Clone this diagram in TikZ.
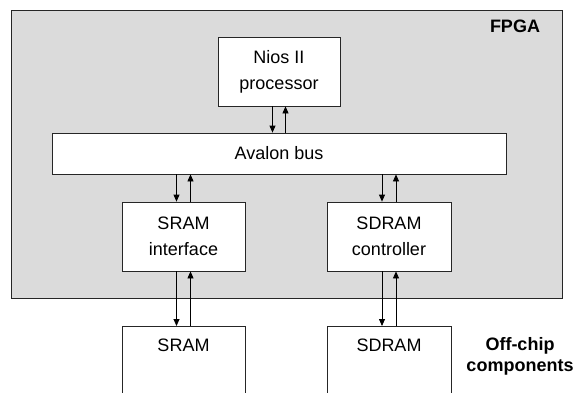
\documentclass[tikz,border=0pt]{standalone}
\usepackage{fontspec}
\setmainfont{Liberation Sans}
\usepackage{tikz}
\usetikzlibrary{arrows.meta,positioning}

\begin{document}
\begin{tikzpicture}[x=1pt, y=-1pt, line width=0.8pt, >={Triangle[length=7pt,width=6pt]}]
\tikzstyle{blk} = [draw=black!85, fill=white, minimum height=69pt, align=center, inner sep=0pt, font=\fontsize{18}{26}\selectfont]
\tikzstyle{mem} = [blk, anchor=north, minimum height=0pt, inner ysep=13pt, text depth=61pt]
\tikzstyle{lbl} = [inner sep=0pt, align=center, font=\fontsize{18}{21}\selectfont\bfseries]
\useasboundingbox (0,0) rectangle (574,392);
\clip (0,0) rectangle (574,392);
% chip
\node[draw=black!85, fill=black!14, minimum width=551pt, minimum height=288pt, inner sep=0pt] (fpga) at (286.5,154) {};
\node[lbl, anchor=base east] (fpgalbl) at ([xshift=-22pt, yshift=-23pt]fpga.north east) {FPGA};
\node[blk, minimum width=122pt] (nios) at (279,71.5) {Nios II\\processor};
\node[blk, minimum width=454pt, minimum height=41pt] (bus) at (279,153.5) {Avalon bus};
\node[blk, minimum width=123pt] (sramif) at (183.5,236.5) {SRAM\\interface};
\node[blk, minimum width=124pt] (sdramctl) at (389,236.5) {SDRAM\\controller};
% off-chip
\node[mem, minimum width=123pt] (sram) at (183.5,326) {SRAM};
\node[mem, minimum width=124pt] (sdram) at (389,326) {SDRAM};
\node[lbl] (offchip) at (520,356) {Off-chip\\components};
% links
\draw[->] ([xshift=-6.5pt]nios.south) -- ([xshift=-6.5pt]nios.south |- bus.north);
\draw[->] ([xshift=6.5pt]nios.south |- bus.north) -- ([xshift=6.5pt]nios.south);
\draw[->] ([xshift=-7pt]sramif.north |- bus.south) -- ([xshift=-7pt]sramif.north);
\draw[->] ([xshift=7pt]sramif.north) -- ([xshift=7pt]sramif.north |- bus.south);
\draw[->] ([xshift=-7pt]sdramctl.north |- bus.south) -- ([xshift=-7pt]sdramctl.north);
\draw[->] ([xshift=7pt]sdramctl.north) -- ([xshift=7pt]sdramctl.north |- bus.south);
\draw[->] ([xshift=-7pt]sramif.south) -- ([xshift=-7pt]sram.north);
\draw[->] ([xshift=7pt]sram.north) -- ([xshift=7pt]sramif.south);
\draw[->] ([xshift=-7pt]sdramctl.south) -- ([xshift=-7pt]sdram.north);
\draw[->] ([xshift=7pt]sdram.north) -- ([xshift=7pt]sdramctl.south);
\end{tikzpicture}
\end{document}
